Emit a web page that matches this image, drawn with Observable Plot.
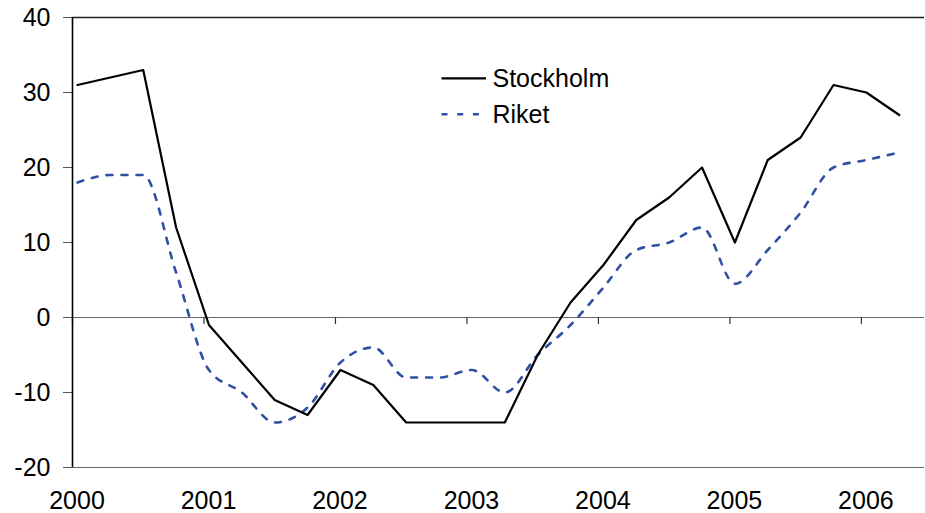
<!DOCTYPE html>
<html><head><meta charset="utf-8">
<script src="https://cdn.jsdelivr.net/npm/d3@7"></script>
<script src="https://cdn.jsdelivr.net/npm/@observablehq/plot@0.6"></script>
<style>body{margin:0;background:#fff}</style>
</head><body><div id="chart"></div>
<script>
const quarters = [
  "2000-1","2000-2","2000-3","2000-4",
  "2001-1","2001-2","2001-3","2001-4",
  "2002-1","2002-2","2002-3","2002-4",
  "2003-1","2003-2","2003-3","2003-4",
  "2004-1","2004-2","2004-3","2004-4",
  "2005-1","2005-2","2005-3","2005-4",
  "2006-1","2006-2"
];
const stockholm = [31,32,33,12, -1,-6,-11,-13, -7,-9,-14,-14, -14,-14,-5,2, 7,13,16,20, 10,21,24,31, 30,27];
const riket     = [18,19,19,6, -7,-10,-14,-12, -6,-4,-8,-8, -7,-10,-5,-1, 4,9,10,12, 4.5,9,14,20, 21,22];
const yearTicks = [2000,2001,2002,2003,2004,2005,2006];
const yTicks = [-20,-10,0,10,20,30,40];
const seriesNames = ["Stockholm","Riket"];

const quarterPos = q => +q.slice(0,4) + (+q.slice(5) - 1) / 4 + 0.038;
const data = quarters.map((q, i) => ({t: quarterPos(q), stockholm: stockholm[i], riket: riket[i]}));

const font = "'Liberation Sans', Arial, sans-serif";
const blue = "#3050a4";
const chart = Plot.plot({
  width: 925, height: 513,
  marginTop: 17, marginBottom: 46, marginLeft: 72, marginRight: 1,
  style: {fontFamily: font, fontSize: "25px", color: "#000", background: "#fff"},
  x: {domain: [2000, 2006.48]},
  y: {domain: [-20, 40]},
  marks: [
    Plot.ruleY([40], {stroke: "#222", strokeWidth: 1.3}),
    Plot.ruleY([-20], {stroke: "#666", strokeWidth: 1.2}),
    Plot.ruleY([0], {stroke: "#666", strokeWidth: 1.2}),
    Plot.ruleX(yearTicks, {x: d => d, y1: 0, y2: 0, insetBottom: -7, stroke: "#333", strokeWidth: 1.2}),
    Plot.axisY({ticks: yTicks, tickSize: 9, tickPadding: 13, tickFormat: d => String(d), label: null, stroke: "#555", fill: "#000"}),
    Plot.axisX({ticks: yearTicks, tickSize: 0, tickPadding: 23.5, tickFormat: d => String(d), label: null, dx: 4.5, fill: "#000"}),
    Plot.ruleX([2000], {stroke: "#000", strokeWidth: 1.6}),
    Plot.line(data, {x: "t", y: "riket", stroke: blue, strokeWidth: 2.6, strokeDasharray: "6 9", curve: "monotone-x"}),
    Plot.line(data, {x: "t", y: "stockholm", stroke: "#000", strokeWidth: 2.2})
  ]
});
document.getElementById("chart").append(chart);

// legend inside the plot area
const svg = d3.select(chart);
const lg = svg.append("g")
  .style("font-family", font).style("font-size", "25px").attr("fill", "#000").attr("text-anchor", "start");
lg.append("line").attr("x1", 441.5).attr("x2", 486).attr("y1", 78.3).attr("y2", 78.3)
  .attr("stroke", "#000").attr("stroke-width", 2.2);
lg.append("text").attr("x", 492.5).attr("y", 87.3).attr("text-anchor", "start").text(seriesNames[0]);
lg.append("line").attr("x1", 441.5).attr("x2", 480).attr("y1", 114.3).attr("y2", 114.3)
  .attr("stroke", blue).attr("stroke-width", 2.6).attr("stroke-dasharray", "6 9.7");
lg.append("text").attr("x", 492.5).attr("y", 123.3).attr("text-anchor", "start").text(seriesNames[1]);
</script>
</body></html>
